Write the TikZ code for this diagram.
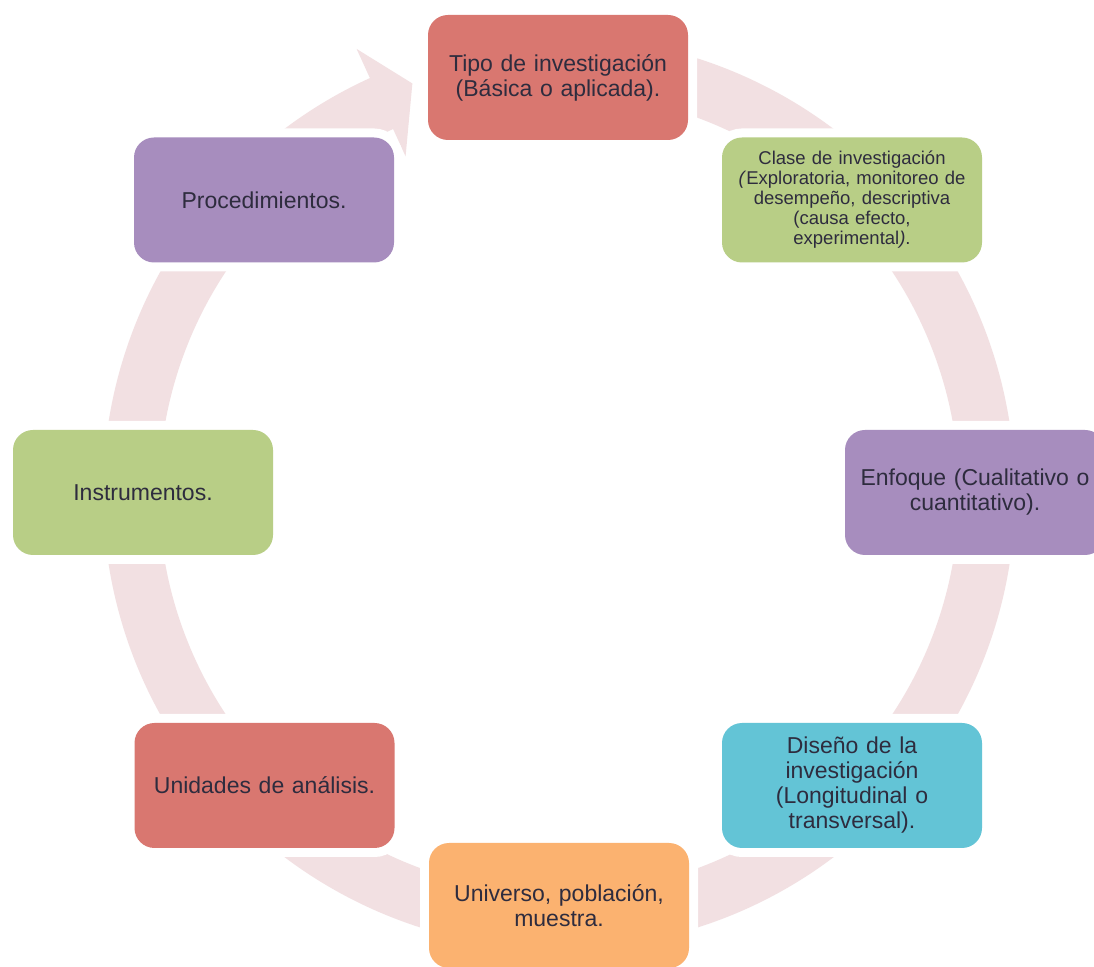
\documentclass[tikz,border=0pt]{standalone}
\usepackage{fontspec}
\setmainfont{Liberation Sans}
\usetikzlibrary{calc}
\definecolor{boxred}{RGB}{217,119,112}
\definecolor{boxgreen}{RGB}{184,206,134}
\definecolor{boxpurple}{RGB}{167,141,190}
\definecolor{boxcyan}{RGB}{99,196,214}
\definecolor{boxorange}{RGB}{251,178,112}
\definecolor{bandpink}{RGB}{242,224,226}
\definecolor{txt}{RGB}{46,44,62}
\tikzset{
  cyclebox/.style={rectangle, rounded corners=20pt, minimum width=260pt, minimum height=125pt,
    text width=236pt, align=center, inner sep=0pt, text=txt,
    font=\fontsize{23}{25}\selectfont,
    preaction={draw=white, line width=18pt}},
  smalltext/.style={font=\fontsize{18.5}{20}\selectfont}
}
\begin{document}
\begin{tikzpicture}[x=1pt,y=1pt]
\useasboundingbox (0,0) rectangle (1094,966);
\fill[white] (0,0) rectangle (1094,966);
\coordinate (C) at (559,473);
% circular band with arrowhead
\fill[bandpink] ($(C)+(100:456)$) arc[start angle=100, end angle=-245.5, radius=456]
  -- ($(C)+(-245.5:488)$) -- ($(C)+(-250.3:435)$) -- ($(C)+(-245.5:370)$)
  -- ($(C)+(-245.5:400)$) arc[start angle=-245.5, end angle=100, radius=400] -- cycle;
% boxes
\node[cyclebox, fill=boxred] (tipo) at (558,888.5) {\raisebox{-8pt}{\parbox{236pt}{\centering Tipo de investigación\\(Básica o aplicada).}}};
\node[cyclebox, fill=boxgreen, smalltext] (clase) at (852,766) {Clase de investigación\\\textit{(}Exploratoria, monitoreo de\\desempeño, descriptiva\\(causa efecto,\\experimental\textit{)}.};
\node[cyclebox, fill=boxpurple] (enfoque) at (975,473.5) {Enfoque (Cualitativo o\\cuantitativo).};
\node[cyclebox, fill=boxcyan] (diseno) at (852,180.5) {Diseño de la\\investigación\\(Longitudinal o\\transversal).};
\node[cyclebox, fill=boxorange] (universo) at (559,60.5) {\raisebox{-6pt}{\parbox{236pt}{\centering Universo, población,\\muestra.}}};
\node[cyclebox, fill=boxred] (unidades) at (264.5,180.5) {Unidades de análisis.};
\node[cyclebox, fill=boxgreen] (instrumentos) at (143,473.5) {Instrumentos.};
\node[cyclebox, fill=boxpurple] (proced) at (264,766) {Procedimientos.};
\end{tikzpicture}
\end{document}
